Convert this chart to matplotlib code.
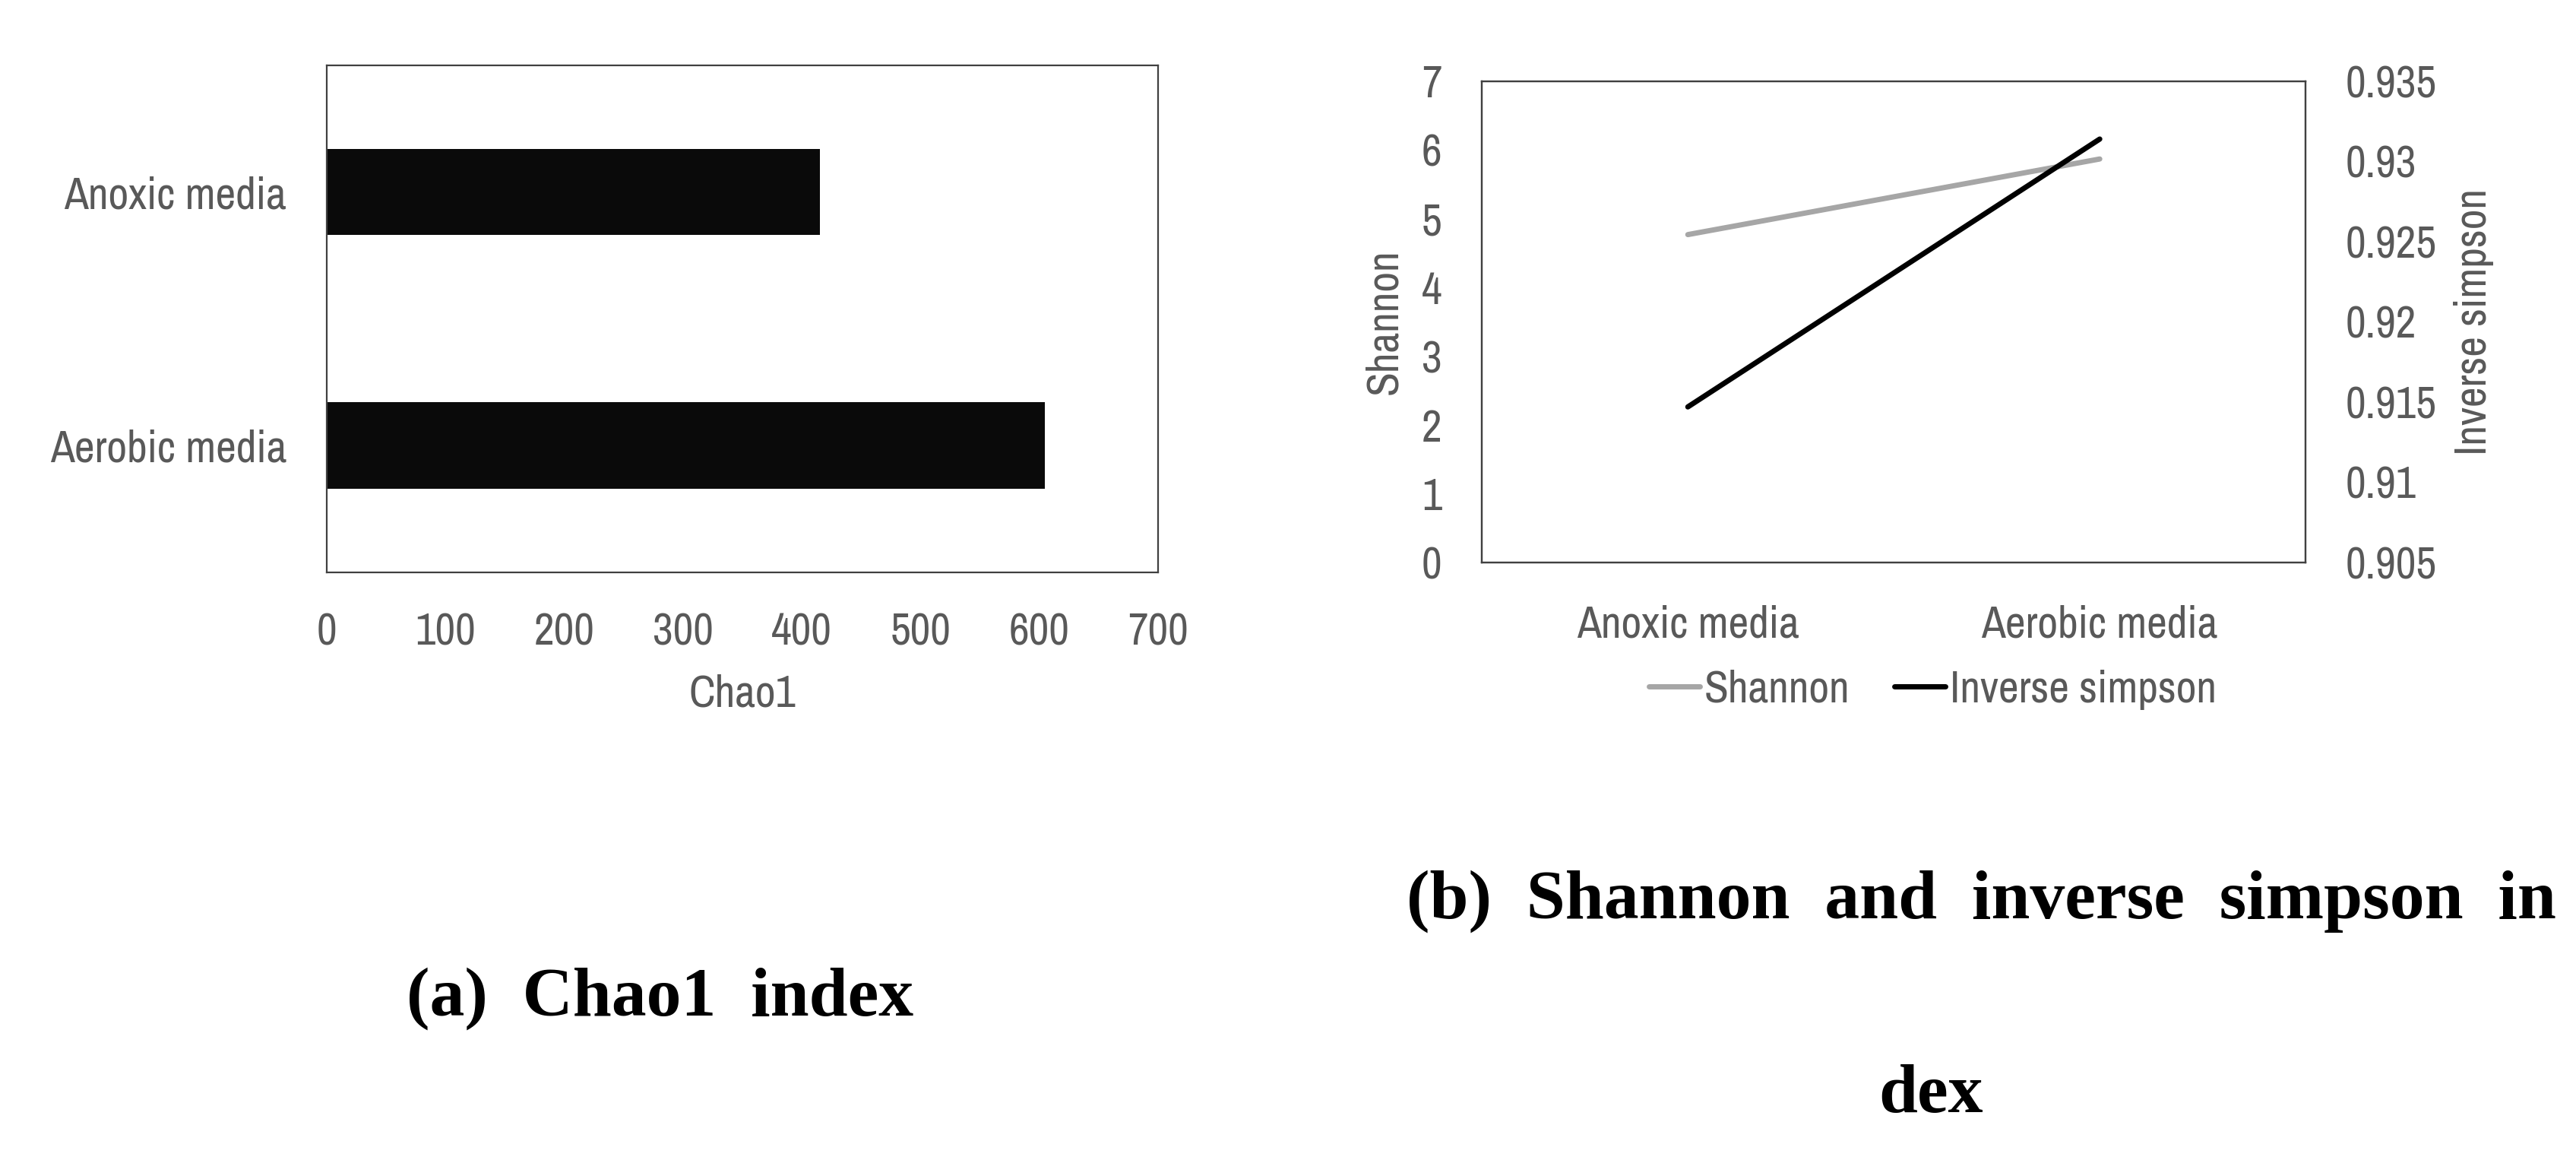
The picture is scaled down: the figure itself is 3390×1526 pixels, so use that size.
import matplotlib
matplotlib.use('Agg')
from matplotlib import pyplot as plt
from matplotlib.ticker import FuncFormatter
import numpy as np

# data
media = ['Anoxic media', 'Aerobic media']
chao1 = [415, 605]
shannon = [4.77, 5.87]
inv_simpson = [0.9147, 0.9314]

plt.rcParams['font.family'] = ['Archivo Narrow', 'Liberation Sans Narrow', 'DejaVu Sans']
txt = '#595959'
edge = '#404040'
fs = 42

fig = plt.figure(figsize=(33.91, 15.26), dpi=100)

# (a) Chao1 bar chart
ax1 = fig.add_axes([0.1268, 0.5066, 0.3226, 0.4371])
ypos = np.arange(len(media))[::-1]
ax1.barh(ypos, chao1, height=0.34, color='#0a0a0a')
ax1.set_ylim(-0.5, 1.5)
ax1.set_xlim(0, 700)
ax1.set_xticks(np.arange(0, 701, 100))
ax1.set_yticks(ypos)
ax1.set_yticklabels(media)
ax1.tick_params(length=0, labelsize=fs, labelcolor=txt, pad=38)
ax1.set_xlabel('Chao1', fontsize=fs, color=txt, labelpad=20)
for s in ax1.spines.values():
    s.set_color(edge)
    s.set_linewidth(1.6)

# (b) Shannon / inverse simpson
ax2 = fig.add_axes([0.5751, 0.5151, 0.3197, 0.4148])
ax3 = ax2.twinx()
x = np.arange(len(media))
l1, = ax2.plot(x, shannon, color='#a6a6a6', lw=5, solid_capstyle='round')
l2, = ax3.plot(x, inv_simpson, color='black', lw=5, solid_capstyle='round')
ax2.set_xlim(-0.5, 1.5)
ax2.set_ylim(0, 7)
ax3.set_ylim(0.905, 0.935)
ax2.set_yticks(np.arange(0, 8, 1))
ax3.set_yticks(np.arange(0.905, 0.9351, 0.005))
ax3.yaxis.set_major_formatter(FuncFormatter(lambda v, p: '%g' % round(v, 3)))
ax2.set_xticks(x)
ax2.set_xticklabels(media)
ax2.tick_params(length=0, labelsize=fs, labelcolor=txt, pad=38)
ax2.tick_params(axis='x', pad=40)
ax3.tick_params(length=0, labelsize=fs, labelcolor=txt, pad=38)
ax2.set_ylabel('Shannon', fontsize=fs, color=txt, labelpad=16)
ax3.set_ylabel('Inverse simpson', fontsize=fs, color=txt, labelpad=16)
for a in (ax2, ax3):
    for s in a.spines.values():
        s.set_color(edge)
        s.set_linewidth(1.6)

fig.legend([l1, l2], ['Shannon', 'Inverse simpson'], loc='center',
           bbox_to_anchor=(0.75, 0.4056), ncol=2, frameon=False, fontsize=fs,
           labelcolor=txt, handlelength=1.15, handletextpad=0.1, columnspacing=1.0)

# captions
cap = dict(family='Liberation Serif', fontweight='bold', fontsize=66, color='black',
           ha='center', va='baseline')
fig.text(0.256, 0.1245, '(a)  Chao1  index', **cap)
fig.text(0.769, 0.2084, '(b)  Shannon  and  inverse  simpson  in', **cap)
fig.text(0.7493, 0.0413, 'dex', **cap)

fig.savefig('out.png', dpi=100, facecolor='white')
